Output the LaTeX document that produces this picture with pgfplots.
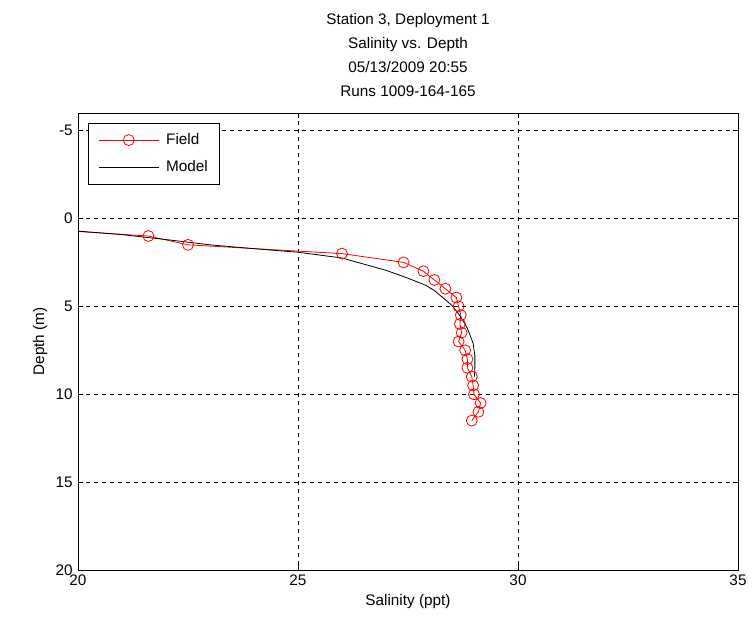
\documentclass[border=0pt]{standalone}
\usepackage{fontspec}
\setmainfont{Liberation Sans}
\usepackage{pgfplots}
\pgfplotsset{compat=1.18}
\begin{document}
\fontsize{15.3bp}{18bp}\selectfont
\begin{tikzpicture}
\begin{axis}[
    scale only axis,
    width=660bp, height=457bp,
    xmin=20, xmax=35, ymin=-6, ymax=20,
    y dir=reverse,
    xtick={20,25,30,35}, ytick={-5,0,5,10,15,20},
    grid=major,
    major grid style={black, dash pattern=on 4bp off 4bp, line width=0.8bp},
    axis line style={black, line width=0.8bp},
    tick style={black, line width=0.8bp},
    tick align=inside,
    major tick length=5bp,
    /pgf/number format/assume math mode=true,
    ticklabel style={font=\fontsize{15.3bp}{18bp}\selectfont},
    xlabel={Salinity (ppt)}, ylabel={Depth (m)},
    xlabel style={yshift=2bp},
    ylabel style={yshift=-2bp},
    title={Station 3, Deployment 1\\Salinity vs. Depth\\05/13/2009 20:55\\Runs 1009-164-165},
    title style={align=center, font=\fontsize{15.3bp}{24bp}\selectfont, yshift=5bp},
    legend style={at={(0,1)}, anchor=north west, xshift=10bp, yshift=-10bp,
        draw=black, line width=0.8bp, font=\fontsize{15.3bp}{18bp}\selectfont,
        inner xsep=10bp, inner ysep=8bp, row sep=10bp, column sep=5bp},
    legend cell align=left,
    legend image code/.code={\draw[mark repeat=2,mark phase=2] plot coordinates {(0bp,0bp) (30bp,0bp) (60bp,0bp)};},
]
% start of field profile at the left edge
\addplot[red, line width=0.8bp, forget plot] coordinates {(20,0.74) (21.6,1.0)};
\addplot[red, line width=0.8bp, mark=o, mark size=5.5bp, mark options={solid, line width=0.8bp}] coordinates {
(21.6,1.0) (22.5,1.5) (26.0,2.0) (27.4,2.5) (27.85,3.0) (28.1,3.5) (28.35,4.0) (28.6,4.5)
(28.65,5.0) (28.7,5.5) (28.68,6.0) (28.72,6.5) (28.65,7.0) (28.8,7.5) (28.85,8.0) (28.85,8.5)
(28.95,9.0) (28.98,9.5) (29.0,10.0) (29.15,10.5) (29.1,11.0) (28.95,11.5)
};
\addlegendentry{Field}
\addplot[black, line width=0.8bp] coordinates {
(20,0.72) (21,0.92) (22,1.2) (23,1.5) (24,1.72) (25,1.92) (26,2.25) (26.5,2.6) (27,2.95)
(27.5,3.4) (27.9,3.8) (28.1,4.1) (28.5,4.95) (28.7,5.6) (28.85,6.25) (28.98,7.1)
(29.02,7.8) (29.02,8.5) (29.01,9.0)
};
\addlegendentry{Model}
\end{axis}
\path (current axis.south west) ++(-78bp,-59bp) coordinate (bbl);
\path (current axis.north east) ++(17bp,113bp) coordinate (btr);
\path (bbl) rectangle (btr);
\end{tikzpicture}
\end{document}
